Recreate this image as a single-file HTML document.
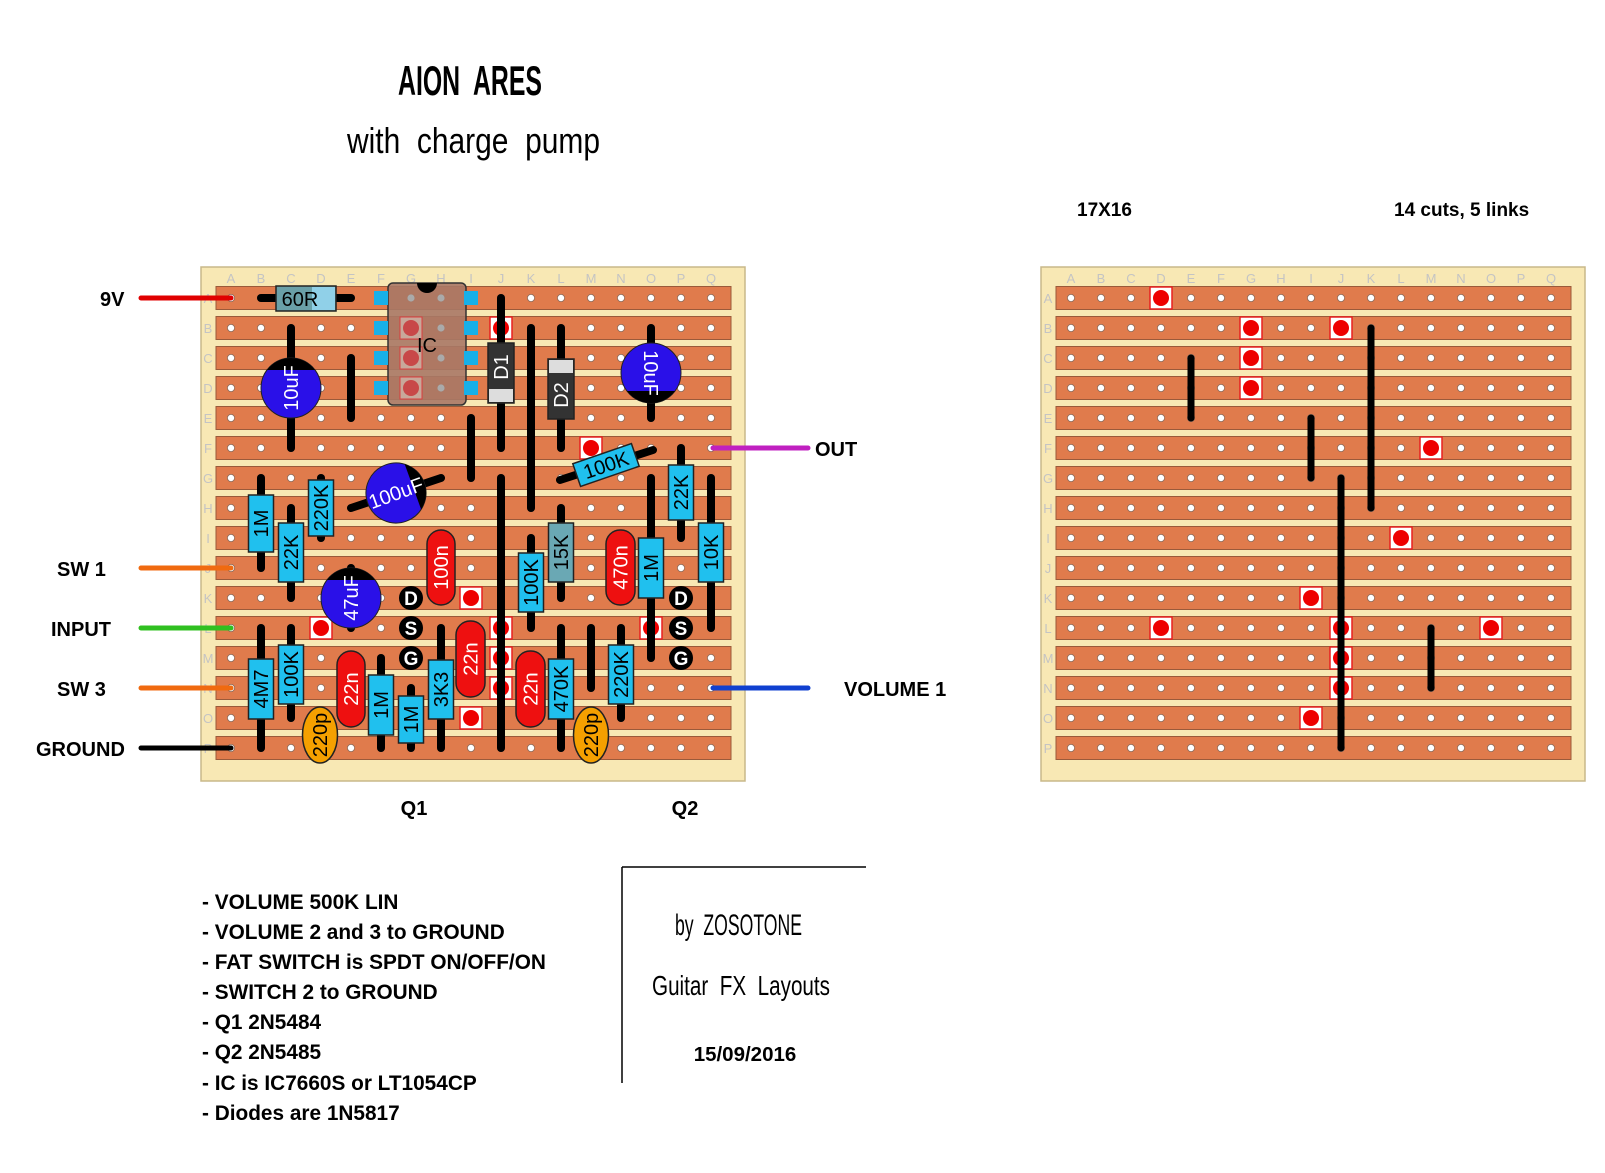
<!DOCTYPE html>
<html><head><meta charset="utf-8"><style>
html,body{margin:0;padding:0;background:#fff;}
svg{display:block;}
text{font-family:"Liberation Sans",sans-serif;}
</style></head><body>
<svg id="s" xmlns="http://www.w3.org/2000/svg" width="1605" height="1173" viewBox="0 0 1605 1173">
<rect width="1605" height="1173" fill="#fff"/>
<!-- titles -->
<text x="398" y="95" font-size="42" font-weight="bold" textLength="144" lengthAdjust="spacingAndGlyphs" xml:space="preserve">AION  ARES</text>
<text x="347" y="153" font-size="36" textLength="253" lengthAdjust="spacingAndGlyphs" xml:space="preserve">with  charge  pump</text>
<text x="1077" y="216" font-size="19" font-weight="bold">17X16</text>
<text x="1394" y="216" font-size="19" font-weight="bold">14 cuts, 5 links</text>
<g id="boards"></g>
<g id="comps"></g>
<!-- side labels -->
<g font-size="20" font-weight="bold">
<text x="100" y="306">9V</text>
<text x="57" y="576">SW 1</text>
<text x="51" y="636">INPUT</text>
<text x="57" y="696">SW 3</text>
<text x="36" y="756">GROUND</text>
<text x="815" y="456">OUT</text>
<text x="844" y="696">VOLUME 1</text>
<text x="414" y="815" text-anchor="middle">Q1</text>
<text x="685" y="815" text-anchor="middle">Q2</text>
</g>
<g font-size="20.8" font-weight="bold">
<text x="202" y="909">- VOLUME 500K LIN</text>
<text x="202" y="939">- VOLUME 2 and 3 to GROUND</text>
<text x="202" y="969">- FAT SWITCH is SPDT ON/OFF/ON</text>
<text x="202" y="999">- SWITCH 2 to GROUND</text>
<text x="202" y="1029">- Q1 2N5484</text>
<text x="202" y="1059">- Q2 2N5485</text>
<text x="202" y="1090">- IC is IC7660S or LT1054CP</text>
<text x="202" y="1120">- Diodes are 1N5817</text>
</g>
<line x1="622" y1="867" x2="622" y2="1083" stroke="#000" stroke-width="1.5"/>
<line x1="622" y1="867" x2="866" y2="867" stroke="#000" stroke-width="1.5"/>
<text x="675" y="935" font-size="30" textLength="127" lengthAdjust="spacingAndGlyphs" xml:space="preserve">by  ZOSOTONE</text>
<text x="652" y="995" font-size="28" textLength="178" lengthAdjust="spacingAndGlyphs" xml:space="preserve">Guitar  FX  Layouts</text>
<text x="745" y="1061" font-size="20.5" font-weight="bold" text-anchor="middle">15/09/2016</text>
</svg>
<script>
var NS="http://www.w3.org/2000/svg";
function el(p,t,a,txt){var e=document.createElementNS(NS,t);for(var k in a)e.setAttribute(k,a[k]);if(txt!==undefined)e.textContent=txt;p.appendChild(e);return e;}
var B=document.getElementById('boards'),C=document.getElementById('comps');
var COLS="ABCDEFGHIJKLMNOPQ",ROWS="ABCDEFGHIJKLMNOP";
function Y(r){return 298+30*r;}
function board(x0,cx){
 el(B,'rect',{x:x0,y:267,width:544,height:514,fill:'#f8e8b4',stroke:'#c8b88a','stroke-width':1.5});
 for(var c=0;c<17;c++)el(B,'text',{x:cx+30*c,y:283,'font-size':13,fill:'#c4c4c4','text-anchor':'middle'},COLS[c]);
 for(var r=0;r<16;r++){
  el(B,'rect',{x:x0+15,y:Y(r)-11.5,width:515,height:23,fill:'#e07b4c',stroke:'#9a5a3a','stroke-width':1});
  el(B,'text',{x:x0+7,y:Y(r)+5,'font-size':13,fill:'#c4c4c4','text-anchor':'middle'},ROWS[r]);
  for(var c=0;c<17;c++)el(B,'circle',{cx:cx+30*c,cy:Y(r),r:3.6,fill:'#fff',stroke:'#8a6a5a','stroke-width':0.8});
 }
}
board(201,231);board(1041,1071);
function cut(cx,c,r){var x=cx+30*c,y=Y(r);el(C,'rect',{x:x-11,y:y-11,width:22,height:22,fill:'#fff',stroke:'#e82020','stroke-width':1.5});el(C,'circle',{cx:x,cy:y,r:8,fill:'#ee0000'});}
var cuts=[[3,0],[6,1],[9,1],[6,2],[6,3],[12,5],[11,8],[8,10],[3,11],[9,11],[14,11],[9,12],[9,13],[8,14]];
cuts.forEach(function(p){cut(231,p[0],p[1]);cut(1071,p[0],p[1]);});
function link(x,y1,y2,w){el(C,'line',{x1:x,y1:y1,x2:x,y2:y2,stroke:'#000','stroke-width':w||8,'stroke-linecap':'round'});}
[[4,2,4],[8,4,6],[9,6,15],[10,1,7],[12,11,13]].forEach(function(l){link(1071+30*l[0],Y(l[1]),Y(l[2]),7);});
function wire(x1,x2,y,col){el(C,'line',{x1:x1,y1:y,x2:x2,y2:y,stroke:col,'stroke-width':5,'stroke-linecap':'round'});}
wire(141,231,298,'#e00000');wire(141,231,568,'#f06a10');wire(141,231,628,'#30c020');wire(141,231,688,'#f06a10');wire(141,231,748,'#000');
wire(713,808,448,'#c020c0');wire(713,808,688,'#1040d0');
function X(c){return 231+30*c;}
[[2,328,448],[4,358,418],[8,418,478],[9,298,448],[9,478,748],[10,328,508],[11,328,448],[14,328,418],[12,628,688],[4,568,628],
 [1,478,568],[2,508,598],[3,478,538],[10,538,628],[11,508,598],[14,478,658],[15,448,538],[16,478,628],[1,628,748],[2,628,718],[5,658,748],[6,688,748],[7,628,748],[11,628,748],[13,628,718]
].forEach(function(l){link(X(l[0]),l[1],l[2]);});
el(C,'line',{x1:261,y1:298,x2:351,y2:298,stroke:'#000','stroke-width':8,'stroke-linecap':'round'});
el(C,'line',{x1:560,y1:480,x2:653,y2:450,stroke:'#000','stroke-width':8,'stroke-linecap':'round'});
el(C,'line',{x1:351,y1:508,x2:441,y2:478,stroke:'#000','stroke-width':8,'stroke-linecap':'round'});
el(C,'rect',{x:388,y:283,width:78,height:122,rx:5,fill:'#a87866',stroke:'#333','stroke-width':1.5,'fill-opacity':0.9});
[[381],[471]].forEach(function(p){for(var r=0;r<4;r++)el(C,'rect',{x:p[0]-7,y:Y(r)-7,width:14,height:14,fill:'#18b0e8'});});
for(var r=0;r<4;r++){if(r>0){el(C,'rect',{x:400,y:Y(r)-11,width:22,height:22,fill:'#c8a89a',stroke:'#d84040','stroke-width':1});el(C,'circle',{cx:411,cy:Y(r),r:8,fill:'#c84848'});}else el(C,'circle',{cx:411,cy:Y(r),r:3.6,fill:'#aaa'});el(C,'circle',{cx:441,cy:Y(r),r:3.6,fill:'#aaa'});}
el(C,'path',{d:'M417 283 A10 10 0 0 0 437 283 Z',fill:'#000'});
el(C,'text',{x:427,y:352,'font-size':20,'text-anchor':'middle'},'IC');
function vtext(x,y,t,col,fs){el(C,'text',{x:0,y:0,'font-size':fs||20,fill:col,'text-anchor':'middle',transform:'translate('+(x+7)+','+y+') rotate(-90)'},t);}
function res(c,b1,b2,t,fill){var x=X(c);el(C,'rect',{x:x-12.5,y:b1,width:25,height:b2-b1,fill:fill||'#20c0ee',stroke:'#222','stroke-width':1.5});vtext(x,(b1+b2)/2,t,'#000');}
res(1,495,552,'1M');res(2,523,582,'22K');res(3,480,536,'220K');res(10,553,612,'100K');res(11,523,582,'15K','#6aa8b4');
res(14,538,598,'1M');res(15,465,520,'22K');res(16,523,582,'10K');res(1,659,719,'4M7');res(2,645,704,'100K');
res(5,675,735,'1M');res(6,696,743,'1M');res(7,660,719,'3K3');res(11,659,719,'470K');res(13,645,704,'220K');
el(C,'rect',{x:276,y:286,width:60,height:25,fill:'#6aa0a8',stroke:'#222','stroke-width':1.5});
el(C,'rect',{x:312,y:287,width:23,height:23,fill:'#90d0e8'});
el(C,'text',{x:300,y:306,'font-size':20,'text-anchor':'middle'},'60R');
el(C,'g',{id:'d100',transform:'translate(606,465) rotate(-19)'});
var g=document.getElementById('d100');
el(g,'rect',{x:-31,y:-12,width:62,height:24,fill:'#20c0ee',stroke:'#222','stroke-width':1.5});
el(g,'text',{x:0,y:7,'font-size':20,'text-anchor':'middle'},'100K');
function fcap(x1,y1,x2,y2,t){el(C,'rect',{x:x1,y:y1,width:x2-x1,height:y2-y1,rx:14,fill:'#ee1010',stroke:'#222','stroke-width':1.5});vtext((x1+x2)/2,(y1+y2)/2,t,'#fff');}
fcap(427,530,455,605,'100n');fcap(456,621,485,697,'22n');fcap(337,651,365,727,'22n');fcap(516,651,545,727,'22n');fcap(606,530,635,605,'470n');
[[320],[591]].forEach(function(p){el(C,'ellipse',{cx:p[0],cy:735,rx:17.5,ry:28,fill:'#f5a000',stroke:'#222','stroke-width':1.5});vtext(p[0],735,'220p','#000');});
function diode(x1,y1,y2,bt,t){el(C,'rect',{x:x1,y:y1,width:26,height:y2-y1,fill:'#333',stroke:'#222','stroke-width':1.5});var by=bt?y1+1:y2-14;el(C,'rect',{x:x1+1,y:by,width:24,height:13,fill:'#ddd'});vtext(x1+13,(y1+y2)/2-(bt?-6:6),t,'#fff');}
diode(488,343,403,false,'D1');diode(548,359,419,true,'D2');
function ecap(cx,cy,rot,t){var gg=el(C,'g',{transform:'translate('+cx+','+cy+') rotate('+rot+')'});
 el(gg,'circle',{cx:0,cy:0,r:30,fill:'#2a10e8',stroke:'#222','stroke-width':1});
 el(gg,'path',{d:'M-24,-18 A30 30 0 0 1 24,-18 Z',fill:'#000'});
 el(gg,'text',{x:0,y:0,'font-size':20,fill:'#fff','text-anchor':'middle',transform:'translate(7,0) rotate(-90)'},t);}
ecap(291,388,0,'10uF');ecap(651,373,180,'10uF');ecap(351,598,0,'47uF');
(function(){var gg=el(C,'g',{transform:'translate(396,493) rotate(70)'});
 el(gg,'circle',{cx:0,cy:0,r:30,fill:'#2a10e8',stroke:'#222','stroke-width':1});
 el(gg,'path',{d:'M-24,-18 A30 30 0 0 1 24,-18 Z',fill:'#000'});
 el(gg,'text',{x:0,y:0,'font-size':20,fill:'#fff','text-anchor':'middle',transform:'translate(7,0) rotate(-90)'},'100uF');})();
[[411],[681]].forEach(function(p){['D','S','G'].forEach(function(L,i){var y=Y(10+i);el(C,'circle',{cx:p[0],cy:y,r:12,fill:'#000'});el(C,'text',{x:p[0],y:y+7,'font-size':19,'font-weight':'bold',fill:'#fff','text-anchor':'middle'},L);});});
</script>
</body></html>
